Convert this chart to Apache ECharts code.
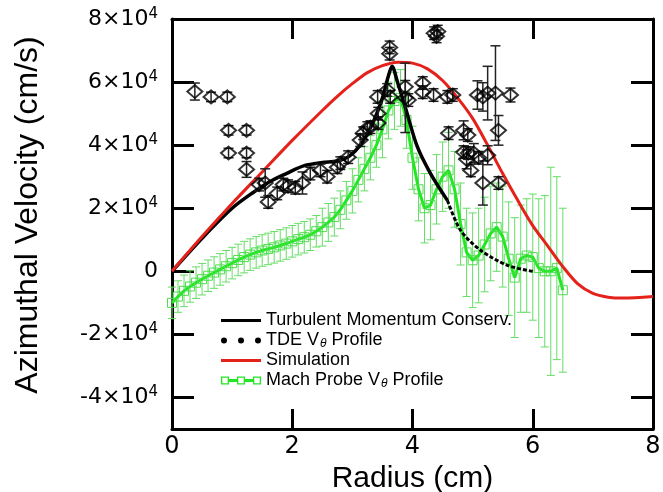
<!DOCTYPE html>
<html>
<head>
<meta charset="utf-8">
<script src="https://cdn.jsdelivr.net/npm/echarts@6/dist/echarts.min.js"></script>
<style>
  body { margin: 0; padding: 0; background: #fff; }
  #chart { width: 663px; height: 492px; }
</style>
</head>
<body>
<div id="chart"></div>
<script>
// velocities below are in units of 1e4 cm/s, radius in cm
const simR = [0, 0.5, 1, 1.5, 2, 2.5, 2.75, 3, 3.25, 3.5, 3.75, 4, 4.25, 4.5, 4.75, 5, 5.25, 5.5, 5.75, 6, 6.25, 6.5, 6.75, 7, 7.25, 7.5, 8];
const simV = [0, 1.1, 2.15, 3.15, 4.15, 5.1, 5.55, 5.95, 6.3, 6.52, 6.63, 6.6, 6.42, 6.05, 5.5, 4.85, 4.0, 3.1, 2.25, 1.45, 0.8, 0.15, -0.4, -0.7, -0.82, -0.85, -0.8];

const turbR = [0, 0.5, 1, 1.35, 1.63, 1.9, 2.2, 2.5, 2.75, 2.95, 3.15, 3.35, 3.5, 3.6, 3.66, 3.75, 3.88, 4.08, 4.3, 4.58];
const turbV = [0, 1.05, 2.0, 2.5, 2.85, 3.1, 3.35, 3.45, 3.5, 3.65, 4.05, 4.75, 5.5, 6.2, 6.5, 6.0, 5.2, 3.95, 3.1, 2.25];
const turbTailR = [4.58, 4.8, 5.13, 5.58, 6.0];
const turbTailV = [2.25, 1.3, 0.67, 0.19, 0.0];

const machR = [0, 0.1, 0.2, 0.3, 0.4, 0.5, 0.6, 0.7, 0.8, 0.9,
  1.0, 1.1, 1.2, 1.3, 1.4, 1.5, 1.6, 1.7, 1.8, 1.9,
  2.0, 2.1, 2.2, 2.3, 2.4, 2.5, 2.6, 2.7, 2.8, 2.9,
  3.0, 3.1, 3.2, 3.3, 3.4, 3.5, 3.6, 3.7, 3.8, 3.9,
  4.0, 4.1, 4.2, 4.3, 4.4, 4.5, 4.6, 4.7, 4.8, 4.9,
  5.0, 5.1, 5.2, 5.3, 5.4, 5.5, 5.6, 5.7, 5.8, 5.9,
  6.0, 6.1, 6.2, 6.3, 6.4, 6.5];
const machV = [-1.0, -0.8, -0.62, -0.48, -0.36, -0.25, -0.14, -0.04, 0.06, 0.16,
  0.26, 0.36, 0.45, 0.53, 0.6, 0.66, 0.71, 0.76, 0.82, 0.88,
  0.95, 1.02, 1.08, 1.16, 1.27, 1.4, 1.55, 1.72, 1.95, 2.25,
  2.55, 2.9, 3.25, 3.6, 4.0, 4.5, 5.1, 5.4, 5.5, 4.8,
  3.6, 2.6, 2.0, 2.1, 2.6, 3.0, 3.2, 2.6, 1.5, 0.6,
  0.35, 0.5, 0.85, 1.2, 1.4, 1.1, 0.4, -0.2, 0.4, 0.5,
  0.45, 0.1, 0.0, 0.0, 0.1, -0.6];
const machE = [0.5, 0.5, 0.5, 0.5, 0.5, 0.5, 0.5, 0.5, 0.5, 0.5,
  0.5, 0.5, 0.5, 0.5, 0.5, 0.5, 0.5, 0.5, 0.5, 0.5,
  0.5, 0.5, 0.5, 0.5, 0.5, 0.6, 0.6, 0.6, 0.6, 0.6,
  0.7, 0.7, 0.7, 0.7, 0.7, 0.9, 0.9, 0.9, 0.9, 0.9,
  1.0, 1.0, 1.1, 1.1, 1.1, 1.1, 1.2, 1.2, 1.3, 1.4,
  1.5, 1.5, 1.5, 1.5, 1.4, 1.6, 1.8, 1.9, 1.7, 1.8,
  2.0, 2.2, 2.4, 3.3, 2.9, 2.6];

const tdeR = [0.38, 0.65, 0.92, 0.94, 1.24, 0.94, 1.24, 1.24, 1.45, 1.55,
  1.6, 1.75, 1.85, 1.93, 2.05, 2.17, 2.3, 2.47, 2.58, 2.75,
  2.8, 2.93, 3.13, 3.18, 3.25, 3.3, 3.43, 3.43, 3.42, 3.58,
  3.63, 3.62, 3.62, 3.88, 3.88, 3.93, 4.17, 4.17, 4.35, 4.58,
  4.67, 4.36, 4.4, 4.42, 5.08, 5.17, 5.25, 5.38, 5.63, 5.43,
  4.6, 4.85, 4.92, 4.85, 4.93, 5.02, 5.25, 4.97, 5.17, 5.43,
  4.9, 5.1];
const tdeV = [5.7, 5.53, 5.53, 4.47, 4.47, 3.75, 3.75, 3.23, 2.75, 2.8,
  2.2, 2.47, 2.75, 2.7, 2.65, 2.8, 3.1, 3.2, 3.0, 3.3,
  3.43, 3.62, 4.16, 4.38, 4.54, 4.57, 4.7, 5.0, 5.53, 5.75,
  5.53, 7.1, 6.9, 5.85, 5.5, 5.43, 5.97, 5.68, 5.59, 5.53,
  5.59, 7.55, 7.45, 7.6, 5.59, 5.53, 5.65, 5.65, 5.59, 4.47,
  4.38, 4.47, 4.32, 3.78, 3.75, 3.75, 3.68, 3.2, 2.8, 2.8,
  3.55, 3.6];
const tdeE = [0.27, 0.15, 0.15, 0.15, 0.15, 0.15, 0.15, 0.25, 0.2, 0.45,
  0.2, 0.2, 0.2, 0.2, 0.2, 0.35, 0.2, 0.2, 0.2, 0.2,
  0.2, 0.2, 0.2, 0.2, 0.2, 0.2, 0.2, 0.2, 0.2, 0.2,
  0.2, 0.2, 0.2, 0.2, 1.1, 0.2, 0.2, 0.2, 0.2, 0.2,
  0.2, 0.2, 0.2, 0.2, 0.45, 0.45, 0.85, 1.5, 0.22, 0.47,
  0.2, 0.3, 0.2, 0.2, 0.2, 0.3, 0.3, 0.2, 0.7, 0.2,
  0.3, 0.2];

const yTicks = [-4e4, -2e4, 0, 2e4, 4e4, 6e4, 8e4];

const E4 = 1e4;
const pairs = (xs, ys) => xs.map((x, i) => [x, ys[i] * E4]);
const errRows = (xs, ys, es) => xs.map((x, i) => [x, (ys[i] - es[i]) * E4, (ys[i] + es[i]) * E4]);

function errorBars(capW, color, width) {
  return function (params, api) {
    const x = api.value(0);
    const lo = api.coord([x, api.value(1)]);
    const hi = api.coord([x, api.value(2)]);
    const h = capW / 2;
    const style = { stroke: color, lineWidth: width };
    return {
      type: 'group',
      children: [
        { type: 'line', shape: { x1: lo[0], y1: lo[1], x2: hi[0], y2: hi[1] }, style: style },
        { type: 'line', shape: { x1: lo[0] - h, y1: lo[1], x2: lo[0] + h, y2: lo[1] }, style: style },
        { type: 'line', shape: { x1: hi[0] - h, y1: hi[1], x2: hi[0] + h, y2: hi[1] }, style: style }
      ]
    };
  };
}

const FONT = 'Liberation Sans';
const TICK_FONT = 'DejaVu Sans';

// legend icons, all drawn in a 40x8 box (tiny corner specks keep the box size)
const CORNERS = 'M0,0h0.01v0.01Z M40,8h-0.01v-0.01Z ';
const ICON_LINE = 'path://' + CORNERS + 'M0,2.5H40V5.5H0Z';
const ICON_DOTS = 'path://' + CORNERS +
  'M0,4a3,3 0 1,0 6,0a3,3 0 1,0 -6,0Z M17,4a3,3 0 1,0 6,0a3,3 0 1,0 -6,0Z M34,4a3,3 0 1,0 6,0a3,3 0 1,0 -6,0Z';
const ICON_MACH = 'path://' + CORNERS +
  'M0,0h8v8h-8Z M1.3,1.3v5.4h5.4v-5.4Z M16,0h8v8h-8Z M17.3,1.3v5.4h5.4v-5.4Z M32,0h8v8h-8Z M33.3,1.3v5.4h5.4v-5.4Z ' +
  'M8,2.5h8v3h-8Z M24,2.5h8v3h-8Z';

const axisLine = { show: true, onZero: false, lineStyle: { color: '#000', width: 3 } };

const chart = echarts.init(document.getElementById('chart'));
chart.setOption({
  animation: false,
  backgroundColor: '#fff',
  grid: { left: 172, right: 10, top: 19, bottom: 63, containLabel: false, outerBoundsMode: 'none' },
  legend: {
    orient: 'vertical',
    left: 216,
    top: 306,
    itemWidth: 40,
    itemHeight: 8,
    itemGap: 1,
    selectedMode: false,
    textStyle: {
      fontFamily: FONT, fontSize: 18, color: '#000', lineHeight: 19,
      rich: { sub: { fontFamily: FONT, fontSize: 12, fontStyle: 'italic', color: '#000', padding: [6, 0, 0, 1] } }
    },
    formatter: name => name.replace('Vθ', 'V{sub|θ}'),
    data: [
      { name: 'Turbulent Momentum Conserv.', icon: ICON_LINE, itemStyle: { color: '#000', borderWidth: 0 } },
      { name: 'TDE Vθ Profile', icon: ICON_DOTS, itemStyle: { color: '#000', borderWidth: 0 } },
      { name: 'Simulation', icon: ICON_LINE, itemStyle: { color: '#e4221b', borderWidth: 0 } },
      { name: 'Mach Probe Vθ Profile', icon: ICON_MACH, itemStyle: { color: '#22e622', borderWidth: 0 } }
    ]
  },
  xAxis: [
    {
      type: 'value', min: 0, max: 8, interval: 2, position: 'bottom',
      axisLine: axisLine,
      axisTick: { inside: true, length: 20, lineStyle: { color: '#000', width: 3 } },
      axisLabel: { fontFamily: TICK_FONT, fontSize: 24, color: '#000', margin: 6 },
      splitLine: { show: false },
      name: 'Radius (cm)', nameLocation: 'middle', nameGap: 32,
      nameTextStyle: { fontFamily: FONT, fontSize: 30, color: '#000' }
    },
    {
      type: 'value', min: 0, max: 8, interval: 2, position: 'top',
      axisLine: axisLine,
      axisTick: { inside: true, length: 20, lineStyle: { color: '#000', width: 3 } },
      axisLabel: { show: false },
      splitLine: { show: false }
    }
  ],
  yAxis: [
    {
      type: 'value', min: -5e4, max: 8e4, position: 'left',
      axisLine: axisLine,
      axisTick: { inside: true, length: 22, customValues: yTicks, lineStyle: { color: '#000', width: 3 } },
      axisLabel: {
        customValues: yTicks,
        fontFamily: TICK_FONT, fontSize: 22, color: '#000', margin: 14,
        formatter: v => v === 0 ? '0' : (v / E4) + '×10{sup|4}',
        rich: { sup: { fontFamily: TICK_FONT, fontSize: 15, color: '#000', padding: [0, 0, 10, 0] } }
      },
      splitLine: { show: false },
      name: 'Azimuthal Velocity (cm/s)', nameLocation: 'middle', nameGap: 128,
      nameTextStyle: { fontFamily: FONT, fontSize: 32, color: '#000', padding: [0, 0, 0, 18] }
    },
    {
      type: 'value', min: -5e4, max: 8e4, position: 'right',
      axisLine: axisLine,
      axisTick: { inside: true, length: 22, customValues: yTicks, lineStyle: { color: '#000', width: 3 } },
      axisLabel: { show: false },
      splitLine: { show: false }
    }
  ],
  series: [
    {
      name: 'Mach Probe Vθ Profile', type: 'custom', z: 1,
      renderItem: errorBars(8, '#66dd66', 1),
      encode: { x: 0, y: [1, 2] },
      data: errRows(machR, machV, machE)
    },
    {
      name: 'Mach Probe Vθ Profile', type: 'line', z: 2,
      data: pairs(machR, machV),
      symbol: 'rect', symbolSize: 9,
      lineStyle: { color: '#22e622', width: 3 },
      itemStyle: { color: 'rgba(0,0,0,0)', borderColor: '#4ddd4d', borderWidth: 1 }
    },
    {
      name: 'Turbulent Momentum Conserv.', type: 'line', z: 3,
      data: pairs(turbR, turbV), smooth: 0.3, symbol: 'none',
      lineStyle: { color: '#000', width: 3.5 }
    },
    {
      name: 'Turbulent Momentum Conserv.', type: 'line', z: 3,
      data: pairs(turbTailR, turbTailV), smooth: 0.3, symbol: 'none',
      lineStyle: { color: '#000', width: 3, type: [4, 2] }
    },
    {
      name: 'Simulation', type: 'line', z: 4,
      data: pairs(simR, simV), smooth: 0.3, symbol: 'none',
      lineStyle: { color: '#e4221b', width: 3 }
    },
    {
      name: 'TDE Vθ Profile', type: 'custom', z: 5,
      renderItem: errorBars(10, '#222', 1.5),
      encode: { x: 0, y: [1, 2] },
      data: errRows(tdeR, tdeV, tdeE)
    },
    {
      name: 'TDE Vθ Profile', type: 'scatter', z: 6,
      data: pairs(tdeR, tdeV),
      symbol: 'diamond', symbolSize: [15, 13],
      itemStyle: { color: 'rgba(0,0,0,0)', borderColor: '#000', borderWidth: 2 }
    }
  ]
});
</script>
</body>
</html>
